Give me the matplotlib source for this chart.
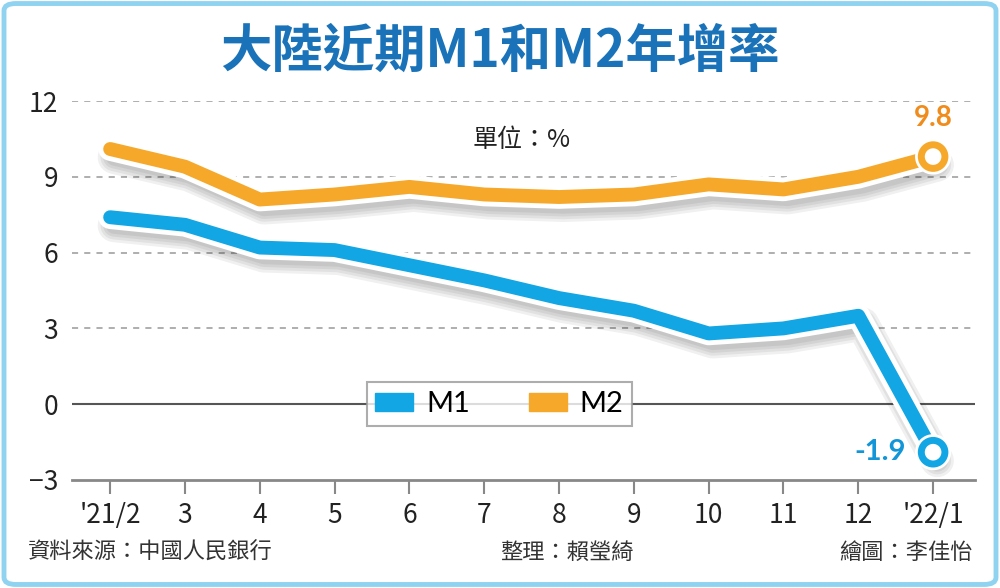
import matplotlib
matplotlib.use("Agg")
import matplotlib.pyplot as plt
import matplotlib.patheffects as pe
from matplotlib.patches import FancyBboxPatch, Patch

plt.rcParams['font.family'] = ['Noto Sans CJK TC', 'DejaVu Sans']

# données (taux de croissance annuel, %)
mois = ["'21/2", "3", "4", "5", "6", "7", "8", "9", "10", "11", "12", "'22/1"]
m1 = [7.4, 7.1, 6.2, 6.1, 5.5, 4.9, 4.2, 3.7, 2.8, 3.0, 3.5, -1.9]
m2 = [10.1, 9.4, 8.1, 8.3, 8.6, 8.3, 8.2, 8.3, 8.7, 8.5, 9.0, 9.8]
yticks = [-3, 0, 3, 6, 9, 12]

bleu = '#12a6e4'
orange = '#f6a82a'

fig = plt.figure(figsize=(10, 5.88), dpi=100)
ax = fig.add_axes([0.072, 1 - 480 / 588, 0.903, (480 - 101) / 588])

x = list(range(len(mois)))

# cadre arrondi
cadre = FancyBboxPatch((0.004, 0.006), 0.992, 0.988, boxstyle="round,pad=0,rounding_size=0.012",
                       transform=fig.transFigure, fill=False, edgecolor='#8fd3f1', linewidth=3.5,
                       zorder=0)
fig.patches.append(cadre)

# grille
for v in yticks[2:]:
    ax.axhline(v, color='#999999', linestyle=(0, (4, 4)), linewidth=1.1, zorder=1)
ax.axhline(0, color='#555555', linewidth=1.5, zorder=1)

# ombre floue : plusieurs couches décalées
ombre = [pe.Stroke(offset=(3, -6), linewidth=w, foreground='black', alpha=0.06)
         for w in (24, 20, 16, 12)]
effets = ombre + [pe.Stroke(linewidth=17, foreground='white'), pe.Normal()]
ax.plot(x, m2, color=orange, linewidth=10, solid_capstyle='round', solid_joinstyle='round',
        path_effects=effets, zorder=3)
ax.plot(x, m1, color=bleu, linewidth=10, solid_capstyle='round', solid_joinstyle='round',
        path_effects=effets, zorder=3)

# points finaux
for serie, c in [(m2, orange), (m1, bleu)]:
    ax.plot(x[-1], serie[-1], 'o', markersize=17, markerfacecolor='white', markeredgecolor=c,
            markeredgewidth=5, zorder=4,
            path_effects=[pe.Stroke(linewidth=9, foreground='white'), pe.Normal()])

ax.text(x[-1], m2[-1] + 1.0, f"{m2[-1]}", color='#f08c1c', fontsize=20, fontweight='bold',
        ha='center', va='bottom', family=['Lato', 'DejaVu Sans'])
ax.text(10.63, m1[-1], f"{m1[-1]}", color='#1296d8', fontsize=21, fontweight='bold',
        ha='right', va='center', family=['Lato', 'DejaVu Sans'])

ax.set_xlim(-0.51, 11.56)
ax.set_ylim(-3, 12)
ax.set_xticks(x)
ax.set_xticklabels(mois)
ax.set_yticks(yticks)
ax.tick_params(axis='x', length=10, width=1.5, color='#888888', labelsize=19, pad=6,
               labelcolor='#222222')
ax.tick_params(axis='y', length=0, labelsize=19, pad=10, labelcolor='#222222')
for s in ['top', 'right', 'left']:
    ax.spines[s].set_visible(False)
ax.spines['bottom'].set_color('#888888')
ax.spines['bottom'].set_linewidth(2)

ax.text(5.5, 10.45, '單位：%', fontsize=18, color='#222222', ha='center', va='center')

leg = ax.legend(handles=[Patch(color=bleu, label='M1'), Patch(color=orange, label='M2')],
                loc='center', ncol=2, prop={'family': ['Lato', 'DejaVu Sans'], 'size': 21},
                frameon=True, fancybox=False, edgecolor='#999999', handlelength=1.3,
                handleheight=0.55, columnspacing=2.0, borderpad=0.3, handletextpad=0.45,
                borderaxespad=0)
leg.get_frame().set_linewidth(1.5)
leg.set_zorder(5)
leg.set_bbox_to_anchor((0.4735, 3 / 15), transform=ax.transAxes)

fig.text(0.5, 0.912, '大陸近期M1和M2年增率', fontsize=37, fontweight='bold', color='#1a72b9',
         ha='center', va='center')

fig.text(0.028, 0.06, '資料來源：中國人民銀行', fontsize=16, color='#333333', ha='left', va='center')
fig.text(0.567, 0.06, '整理：賴瑩綺', fontsize=16, color='#333333', ha='center', va='center')
fig.text(0.973, 0.06, '繪圖：李佳怡', fontsize=16, color='#333333', ha='right', va='center')

fig.savefig('out.png', dpi=100)
